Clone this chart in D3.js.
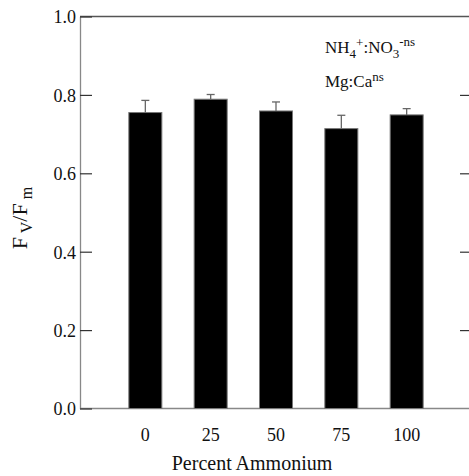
<!DOCTYPE html>
<html>
<head>
<meta charset="utf-8">
<script src="https://cdn.jsdelivr.net/npm/d3@7"></script>
<style>
  body { margin: 0; background: #fff; }
  text { font-family: "Liberation Serif", "Times New Roman", serif; fill: #111; }
</style>
</head>
<body>
<div id="chart"></div>
<script>
// Fv/Fm by percent ammonium
var categories = ["0", "25", "50", "75", "100"];
var means = [0.755, 0.789, 0.759, 0.714, 0.749];
var errors = [0.031, 0.012, 0.023, 0.034, 0.016];
var yTicks = [0.0, 0.2, 0.4, 0.6, 0.8, 1.0];

var width = 469, height = 476;
var plot = { left: 80, right: 472, top: 16.5, bottom: 408.5 };

var svg = d3.select("#chart").append("svg")
  .attr("width", width)
  .attr("height", height);

var x = d3.scaleLinear().domain([-1, categories.length]).range([plot.left, plot.right]);
var y = d3.scaleLinear().domain([0, 1]).range([plot.bottom, plot.top]);
var barWidth = 33;

// frame lines
svg.append("line")
  .attr("x1", plot.left).attr("x2", plot.right)
  .attr("y1", plot.top).attr("y2", plot.top)
  .attr("stroke", "#555").attr("stroke-width", 1.3);
svg.append("line")
  .attr("x1", plot.left).attr("x2", plot.right)
  .attr("y1", plot.bottom).attr("y2", plot.bottom)
  .attr("stroke", "#888").attr("stroke-width", 1.3);

// left axis with inward ticks
var yAxis = d3.axisLeft(y).tickValues(yTicks).tickFormat(d3.format(".1f"))
  .tickSizeInner(-12).tickSizeOuter(0).tickPadding(6);
var gy = svg.append("g").attr("transform", "translate(" + plot.left + ",0)").call(yAxis);
gy.attr("font-family", null);
gy.select(".domain").attr("stroke", "#888").attr("stroke-width", 1.3);
gy.selectAll(".tick line").attr("stroke", "#333").attr("stroke-width", 1.2);
gy.selectAll(".tick text")
  .attr("x", -4)
  .attr("dy", "0.36em")
  .style("font-family", "'Liberation Serif', 'Times New Roman', serif")
  .style("font-size", "18px").attr("fill", "#111");

// right side ticks (axis line falls off the picture)
var gr = svg.append("g").attr("transform", "translate(" + plot.right + ",0)")
  .call(d3.axisRight(y).tickValues(yTicks.slice(1, 5)).tickSizeInner(-12).tickSizeOuter(0).tickFormat(""));
gr.select(".domain").attr("stroke", "#888");
gr.selectAll(".tick line").attr("stroke", "#333").attr("stroke-width", 1.2);

// bars
svg.selectAll("rect.bar")
  .data(means)
  .enter().append("rect")
  .attr("class", "bar")
  .attr("x", (d, i) => x(i) - barWidth / 2)
  .attr("y", d => y(d))
  .attr("width", barWidth)
  .attr("height", d => y(0) - y(d))
  .attr("fill", "#000")
  .attr("stroke", "#777")
  .attr("stroke-width", 1);

// error bars (upper only)
var err = svg.selectAll("g.err")
  .data(means)
  .enter().append("g")
  .attr("class", "err")
  .attr("stroke", "#666")
  .attr("stroke-width", 1.3);
err.append("line")
  .attr("x1", (d, i) => x(i)).attr("x2", (d, i) => x(i))
  .attr("y1", d => y(d)).attr("y2", (d, i) => y(d + errors[i]));
err.append("line")
  .attr("x1", (d, i) => x(i) - 4).attr("x2", (d, i) => x(i) + 4)
  .attr("y1", (d, i) => y(d + errors[i])).attr("y2", (d, i) => y(d + errors[i]));

// x category labels
svg.selectAll("text.xlab")
  .data(categories)
  .enter().append("text")
  .attr("class", "xlab")
  .attr("x", (d, i) => x(i))
  .attr("y", 441)
  .attr("text-anchor", "middle")
  .attr("font-size", 18)
  .text(d => d);

// x title
svg.append("text")
  .attr("x", 252)
  .attr("y", 470)
  .attr("text-anchor", "middle")
  .attr("font-size", 20)
  .text("Percent Ammonium");

// y title: F_V/F_m
var yt = svg.append("text")
  .attr("transform", "translate(27,218) rotate(-90)")
  .attr("text-anchor", "middle")
  .attr("font-size", 22);
yt.append("tspan").text("F");
yt.append("tspan").attr("font-size", 16).attr("dy", 5).text(" V");
yt.append("tspan").attr("dy", -5).text("/F");
yt.append("tspan").attr("font-size", 16).attr("dy", 5).text(" m");

// significance notes
var n1 = svg.append("text").attr("x", 325).attr("y", 53).attr("font-size", 17);
n1.append("tspan").text("NH");
n1.append("tspan").attr("font-size", 13).attr("dy", 5).text("4");
n1.append("tspan").attr("font-size", 13).attr("dy", -11).text("+");
n1.append("tspan").attr("dy", 6).text(":NO");
n1.append("tspan").attr("font-size", 13).attr("dy", 5).text("3");
n1.append("tspan").attr("font-size", 13).attr("dy", -12).text("-ns");

var n2 = svg.append("text").attr("x", 325).attr("y", 87).attr("font-size", 17);
n2.append("tspan").text("Mg:Ca");
n2.append("tspan").attr("font-size", 13).attr("dy", -6).text("ns");
</script>
</body>
</html>
